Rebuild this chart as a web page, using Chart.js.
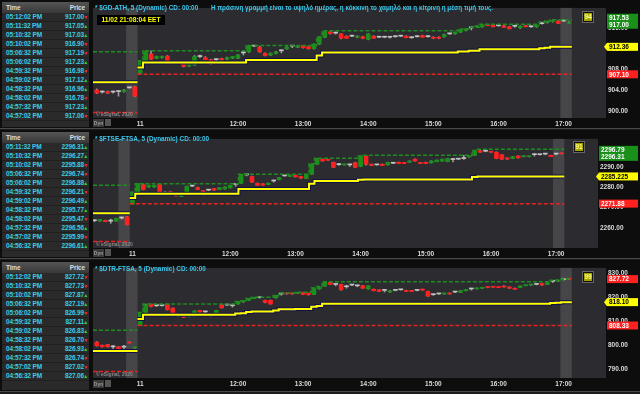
<!DOCTYPE html>
<html>
<head>
<meta charset="utf-8">
<title>eSignal - 5 min</title>
<script src="https://cdn.jsdelivr.net/npm/chart.js@4"></script>
<style>
  body { margin:0; width:640px; height:394px; background:#1b1b1b; overflow:hidden; position:relative;
         font-family:"Liberation Sans",Arial,sans-serif; font-weight:bold; font-size:6.5px; }
  .panel { position:absolute; left:0; width:640px; background:#0d0d0d; border-bottom:1px solid #4a4a4a; }
  .tbl { position:absolute; left:2px; width:87px; background:#2a2a2a; overflow:hidden; letter-spacing:-0.15px; }
  .thead { height:11px; line-height:11px; background:linear-gradient(#555,#383838); color:#ddd; padding:0 4px; }
  .thead span { float:right; }
  .row { height:8px; line-height:8px; border-bottom:1px solid #202020; color:#38cde6; padding-left:4px; position:relative; }
  .row .p { position:absolute; right:5px; }
  .row .a { position:absolute; right:1px; font-size:5px; }
  canvas { position:absolute; left:93px; }
  .txt { position:absolute; white-space:nowrap; }
  .title { color:#3cc8ec; font-size:6.4px; }
  .clock { background:#000; color:#ffff00; width:68px; height:10px; line-height:10px; text-align:center; font-size:6.6px; }
  .sig { width:8px; height:8px; line-height:8px; text-align:center; background:#a3a300; color:#ffff80; border:1px solid #111; outline:1px solid #666; }
  .esig { color:#8a8a8a; font-size:5px; }
  .dyn { background:#3a3a3a; color:#9a9a9a; font-size:5px; width:11px; height:8px; line-height:8px; text-align:center; }
  .dyni { background:#555; width:6px; height:7px; }
</style>
</head>
<body>

<div class="panel" style="top:0;height:128px"></div>
<div class="panel" style="top:130px;height:128px"></div>
<div class="panel" style="top:260px;height:131px"></div>

<div class="tbl" id="tbl1" style="top:2px;height:125px"></div>
<div class="tbl" id="tbl2" style="top:132px;height:125px"></div>
<div class="tbl" id="tbl3" style="top:262px;height:128px"></div>

<canvas id="chart1" width="547" height="126" style="top:2px"></canvas>
<canvas id="chart2" width="547" height="125" style="top:133px"></canvas>
<canvas id="chart3" width="547" height="128" style="top:262px"></canvas>

<div class="txt title" style="left:95px;top:4px">* $GD-ATH, 5 (Dynamic) CD: 00:00</div>
<div class="txt title" style="left:211px;top:4px;font-size:6.3px">Η πράσινη γραμμή είναι το υψηλό ημέρας, η κόκκινη το χαμηλό και η κίτρινη η μέση τιμή τους.</div>
<div class="txt clock" style="left:97px;top:15px">11/02 21:08:04 EET</div>
<div class="txt title" style="left:95px;top:135px">* $FTSE-FTSA, 5 (Dynamic) CD: 00:00</div>
<div class="txt title" style="left:95px;top:265px">* $DTR-FTSA, 5 (Dynamic) CD: 00:00</div>

<div class="txt sig" style="left:583px;top:12px">94</div>
<div class="txt sig" style="left:574px;top:142px">91</div>
<div class="txt sig" style="left:583px;top:272px">99</div>

<div class="txt esig" style="left:96px;top:111px">© eSignal, 2020</div>
<div class="txt esig" style="left:96px;top:241px">© eSignal, 2020</div>
<div class="txt esig" style="left:96px;top:371px">© eSignal, 2020</div>
<div class="txt dyn" style="left:93px;top:119px">Dyn</div><div class="txt dyni" style="left:105px;top:119px"></div>
<div class="txt dyn" style="left:93px;top:249px">Dyn</div><div class="txt dyni" style="left:105px;top:249px"></div>
<div class="txt dyn" style="left:93px;top:380px">Dyn</div><div class="txt dyni" style="left:105px;top:380px"></div>

<script>
// time & sales tables
const times1 = ['05:12:02 PM','05:11:32 PM','05:10:32 PM','05:10:02 PM','05:06:32 PM','05:06:02 PM','04:59:32 PM','04:59:02 PM','04:58:32 PM','04:58:02 PM','04:57:32 PM','04:57:02 PM'];
const prices1 = ['917.00','917.05','917.03','916.90','917.19','917.23','916.98','917.12','916.96','916.78','917.23','917.06'];
const up1 = [0,1,1,0,0,1,0,1,1,0,1,0];
const times2 = ['05:11:32 PM','05:10:32 PM','05:10:02 PM','05:06:32 PM','05:06:02 PM','04:59:32 PM','04:59:02 PM','04:58:32 PM','04:58:02 PM','04:57:32 PM','04:57:02 PM','04:56:32 PM'];
const prices2 = ['2296.31','2296.27','2295.88','2296.74','2296.88','2296.21','2296.49','2295.77','2295.47','2296.56','2295.99','2296.61'];
const up2 = [1,1,0,0,1,0,1,1,0,1,0,1];
const times3 = ['05:12:02 PM','05:10:32 PM','05:10:02 PM','05:06:32 PM','05:06:02 PM','04:59:32 PM','04:59:02 PM','04:58:32 PM','04:58:02 PM','04:57:32 PM','04:57:02 PM','04:56:32 PM'];
const prices3 = ['827.72','827.73','827.87','827.19','826.99','827.11','826.83','826.70','826.93','826.74','827.02','827.06'];
const up3 = [0,0,1,1,0,1,1,0,1,0,0,1];

// x axis: bar index, 0 = 10:30 of day 11, 5 minute bars
const xTickIdx = [0, 18, 30, 42, 54, 66, 78];
const xTickText = ['11', '12:00', '13:00', '14:00', '15:00', '16:00', '17:00'];
const bandStart = [-2.6, 77.4];
const bandEnd = [-0.5, 79.5];

// ---- $GD-ATH ----
const first1 = -8;
const open1 = [904.1,903.7,903.8,903.7,903.8,903.8,904.5,904.7,
  907.3,909.6,911.0,910.2,910.3,910.6,909.3,909.4,909.3,908.7,
  908.9,910.5,910.3,909.9,909.9,910.1,910.0,910.2,910.2,911.2,
  911.4,912.5,912.3,911.1,910.8,911.1,911.6,912.0,912.5,912.3,
  912.6,912.4,912.0,912.9,914.2,915.2,915.0,914.85,914.4,914.4,
  914.2,914.3,913.8,914.4,914.2,914.2,914.2,914.3,914.4,914.4,
  914.1,914.3,914.5,914.3,914.2,914.2,914.3,914.85,914.85,915.2,
  915.5,916.0,916.2,916.2,916.6,916.5,916.4,916.4,916.2,916.3,
  916.0,916.4,916.2,916.2,916.8,917.0,917.2,917.3,917.3,916.85];
const high1 = [904.3,903.9,903.9,903.9,903.9,904.2,904.7,904.8,
  909.7,911.6,911.6,910.6,910.6,910.7,909.4,909.5,909.4,909.1,
  910.7,910.8,910.5,910.0,910.1,910.2,910.4,910.5,910.9,911.5,
  912.6,912.6,912.5,911.2,911.2,911.5,911.8,912.4,912.6,912.6,
  912.6,912.5,912.95,914.3,915.45,915.3,915.2,914.9,914.5,914.6,
  914.5,914.4,914.9,914.5,914.4,914.4,914.3,914.5,914.6,914.5,
  914.3,914.5,914.6,914.5,914.3,914.3,914.8,915.0,915.2,915.7,
  915.8,916.1,916.4,916.7,916.7,916.6,916.5,916.5,916.3,916.5,
  916.4,916.5,916.4,916.6,917.1,917.3,917.53,917.4,917.5,917.2];
const low1 = [903.4,903.5,903.4,903.5,902.9,903.7,904.4,902.8,
  907.1,909.5,909.9,910.1,910.2,909.2,909.1,909.2,908.5,908.6,
  908.8,910.3,909.9,909.0,909.7,909.8,909.9,910.1,910.1,910.8,
  911.3,912.4,911.3,910.6,910.7,911.0,911.2,911.9,912.2,912.2,
  912.1,911.9,911.9,912.8,914.1,914.8,914.8,913.9,914.0,914.3,
  914.1,913.9,913.7,914.0,914.1,914.1,914.0,914.2,914.3,914.1,
  914.0,914.2,914.2,914.2,913.9,913.9,914.2,914.7,914.8,915.1,
  915.4,915.6,916.1,916.1,916.4,916.2,916.3,916.1,915.8,916.1,
  915.9,916.2,916.1,916.1,916.7,916.9,917.1,916.8,917.2,916.8];
const close1 = [903.5,903.7,903.5,903.7,903.8,904.1,904.5,902.9,
  909.5,911.5,910.0,910.5,910.5,909.3,909.3,909.3,908.6,909.0,
  910.5,910.5,909.9,909.1,909.9,909.9,910.3,910.5,910.8,911.2,
  912.6,912.5,911.4,910.7,911.1,911.4,911.6,912.3,912.5,912.6,
  912.2,912.0,912.9,914.2,915.3,914.9,915.0,914.0,914.0,914.4,
  914.4,914.0,914.85,914.0,914.2,914.2,914.2,914.3,914.4,914.1,
  914.1,914.3,914.2,914.3,914.0,914.0,914.7,914.85,915.15,915.6,
  915.8,916.0,916.3,916.6,916.4,916.2,916.4,916.1,915.8,916.3,
  916.3,916.2,916.2,916.5,916.8,917.2,917.4,916.85,917.3,917.0];
const prevHi1 = 911.4, prevMid1 = 905.6, prevLo1 = 899.8;
const stepX1 = [-0.5, 0.5, 19.5, 32.5, 33.5, 58.5, 60.5, 62.5, 73.5, 74.5, 75.5];
const hiV1 = [909.7, 911.6, 912.6, 914.3, 915.45, 915.8, 916.1, 916.7, 917.1, 917.3, 917.53];
const midV1 = [908.4, 909.35, 909.85, 910.7, 911.28, 911.45, 911.6, 911.9, 912.1, 912.2, 912.36];
const dayLo1 = 907.10;
const yTicks1 = [900, 904, 908, 912, 916];
const markVal1 = [917.53, 917.00, 912.36, 907.10];
const markTxt1 = ['917.53', '917.00', '912.36', '907.10'];
const markKind1 = ['up', 'up', 'mid', 'down'];

// ---- $FTSE-FTSA ----
const first2 = -7;
const open2 = [2263.5,2263.3,2263.6,2263.3,2263.3,2264.8,2265.35,
  2271.55,2277.0,2281.2,2280.07,2280.07,2281.3,2277.0,2277.75,2277.0,2275.4,
  2276.5,2280.5,2279.76,2278.2,2278.5,2279.3,2278.8,2279.1,2279.6,2281.3,
  2281.9,2286.0,2285.2,2281.9,2281.6,2281.3,2283.0,2283.6,2285.5,2285.2,
  2285.8,2285.2,2284.26,2286.3,2291.24,2293.7,2293.3,2292.17,2291.0,2290.9,
  2290.9,2292.0,2290.15,2295.27,2291.24,2290.9,2291.24,2290.93,2291.7,2292.17,
  2292.0,2292.17,2293.7,2292.0,2292.17,2291.86,2292.48,2292.8,2292.48,2293.5,
  2293.7,2294.0,2294.8,2295.6,2297.9,2297.6,2297.44,2297.13,2295.9,2294.34,
  2294.03,2295.27,2294.96,2294.96,2295.9,2295.9,2296.2,2295.58,2296.2,2296.6];
const high2 = [2263.8,2264.2,2263.8,2264.3,2264.7,2265.4,2265.5,
  2277.5,2281.6,2281.5,2281.0,2281.0,2281.5,2277.75,2278.0,2277.2,2276.6,
  2280.5,2280.8,2280.0,2278.3,2278.8,2279.4,2279.8,2280.1,2280.9,2281.6,
  2286.3,2286.3,2285.4,2282.0,2281.7,2282.0,2283.5,2284.8,2285.7,2285.9,
  2286.0,2285.3,2286.3,2291.4,2294.1,2293.8,2293.4,2292.3,2291.7,2291.3,
  2291.3,2292.1,2295.3,2295.6,2291.3,2291.1,2291.3,2292.2,2291.9,2292.3,
  2292.1,2292.9,2293.9,2292.1,2292.3,2292.9,2293.3,2293.8,2294.1,2294.1,
  2293.9,2295.6,2295.3,2297.95,2298.57,2298.4,2297.6,2297.3,2296.0,2294.4,
  2295.1,2295.4,2295.4,2295.2,2296.4,2296.0,2296.4,2295.7,2296.4,2296.8];
const low2 = [2263.0,2263.2,2263.0,2262.2,2263.2,2264.3,2261.4,
  2271.88,2276.9,2278.6,2279.9,2279.9,2276.8,2276.2,2277.0,2275.6,2275.3,
  2276.3,2280.2,2278.7,2276.0,2278.2,2278.4,2278.7,2279.0,2279.5,2280.4,
  2281.8,2285.5,2282.3,2280.8,2280.9,2281.2,2282.4,2283.5,2285.3,2285.1,
  2284.9,2284.3,2284.1,2286.2,2291.1,2292.7,2293.1,2289.6,2290.6,2290.8,
  2290.1,2289.6,2290.0,2290.8,2290.5,2290.7,2290.5,2290.8,2291.5,2291.5,
  2291.5,2292.1,2292.7,2291.5,2291.5,2291.8,2292.4,2292.7,2292.4,2292.4,
  2293.5,2293.6,2294.7,2295.5,2297.0,2297.3,2297.0,2293.9,2293.6,2293.6,
  2293.9,2294.2,2294.8,2294.8,2295.2,2295.7,2295.8,2294.9,2295.8,2296.2];
const close2 = [2263.5,2264.1,2263.0,2263.3,2264.6,2264.8,2261.5,
  2277.3,2281.6,2278.8,2280.85,2280.85,2277.0,2277.0,2277.0,2275.7,2276.5,
  2280.4,2280.5,2278.8,2276.2,2278.5,2278.5,2279.76,2280.07,2280.85,2281.3,
  2286.3,2286.0,2282.4,2280.85,2281.0,2281.9,2283.0,2284.7,2285.5,2285.8,
  2285.0,2284.4,2286.3,2291.24,2294.03,2292.8,2293.2,2289.7,2291.0,2291.24,
  2290.9,2289.7,2295.2,2291.24,2290.62,2290.9,2290.62,2292.17,2291.7,2291.55,
  2291.55,2292.8,2292.8,2291.55,2291.55,2292.8,2293.25,2293.7,2294.03,2293.5,
  2293.7,2294.0,2295.27,2297.9,2297.13,2297.6,2297.13,2294.03,2293.7,2293.7,
  2294.96,2294.34,2295.27,2295.1,2295.9,2295.9,2296.2,2294.96,2296.2,2296.31];
const prevHi2 = 2280.85, prevMid2 = 2267.1, prevLo2 = 2253.3;
const stepX2 = [-0.5, 0.5, 19.5, 32.5, 33.5, 41.5, 42.5, 62.5, 63.5];
const hiV2 = [2277.5, 2281.6, 2286.3, 2291.4, 2294.1, 2295.3, 2295.6, 2297.95, 2298.57];
const midV2 = [2274.7, 2276.75, 2279.1, 2281.65, 2283.0, 2283.6, 2283.75, 2284.9, 2285.225];
const dayLo2 = 2271.88;
const yTicks2 = [2260, 2270, 2280, 2290];
const markVal2 = [2296.79, 2296.31, 2285.225, 2271.88];
const markTxt2 = ['2296.79', '2296.31', '2285.225', '2271.88'];
const markKind2 = ['up', 'up', 'mid', 'down'];

// ---- $DTR-FTSA ----
const first3 = -8;
const open3 = [801.4,800.1,800.37,799.4,799.44,799.3,801.4,799.0,
  808.4,813.33,817.3,816.6,816.64,817.3,815.6,812.7,813.33,812.0,
  812.27,814.65,814.0,812.7,812.67,817.03,816.9,816.6,817.3,818.36,
  818.88,819.55,819.94,818.88,818.88,819.94,821.5,821.79,821.79,821.79,
  822.06,821.79,821.27,823.65,824.84,826.3,825.5,825.5,824.5,825.24,
  824.9,824.97,823.65,823.5,823.25,823.0,822.32,823.0,823.25,822.98,
  822.85,823.0,823.5,822.59,821.2,821.53,821.53,821.79,822.3,822.19,
  822.85,823.6,823.65,823.91,824.44,824.57,824.44,824.84,824.44,823.91,
  824.18,824.97,825.24,825.5,825.9,825.5,826.8,826.82,827.5,827.87];
const high3 = [801.6,800.2,800.5,800.1,799.6,800.1,801.5,799.3,
  813.8,817.3,817.3,817.0,816.9,817.3,815.7,813.4,813.4,812.7,
  814.5,814.7,814.4,813.3,814.7,817.1,817.3,817.3,818.4,818.7,
  819.7,820.0,820.1,819.0,819.0,820.9,821.79,821.9,821.9,822.2,
  822.2,821.9,824.0,824.6,826.6,826.4,825.9,825.6,825.2,825.4,
  825.24,825.1,825.0,823.6,823.3,823.3,823.0,823.2,823.4,823.1,
  822.9,823.1,823.6,822.7,821.5,821.7,821.9,821.9,822.6,822.9,
  823.4,823.9,824.0,824.2,824.5,824.7,824.5,824.9,824.5,824.0,
  824.9,825.3,825.6,825.7,826.0,826.6,827.22,827.3,827.7,827.87];
const low3 = [799.7,799.3,799.3,798.5,798.4,798.1,801.0,798.8,
  808.33,813.2,816.1,816.2,816.4,814.8,813.5,812.0,811.6,811.9,
  812.1,813.9,813.3,812.0,812.5,815.6,816.6,816.0,817.2,818.0,
  818.8,819.5,819.8,817.8,817.2,819.8,821.0,821.4,821.4,821.7,
  821.2,821.0,821.2,823.5,824.7,825.4,824.9,823.1,823.9,825.0,
  824.5,823.8,823.5,822.8,822.5,822.3,822.2,822.8,823.1,822.5,
  822.5,822.8,823.0,820.5,820.9,821.3,821.4,821.4,822.0,822.1,
  822.8,823.1,823.6,823.8,824.1,824.3,824.1,824.4,823.8,823.4,
  824.1,824.9,825.1,825.3,825.1,825.4,826.29,826.7,827.3,827.5];
const close3 = [799.84,799.44,799.44,799.4,798.5,799.3,801.03,799.04,
  813.6,816.9,816.24,816.6,816.64,814.92,813.59,812.7,811.74,812.67,
  814.39,813.99,814.0,812.7,814.65,815.71,816.9,816.6,818.36,818.62,
  819.68,819.94,819.94,817.96,817.3,820.87,821.5,821.53,821.53,822.06,
  821.27,821.27,823.91,824.44,826.56,825.5,825.5,823.25,824.5,825.24,
  824.9,823.91,824.9,822.85,822.59,823.0,822.85,823.0,823.25,822.59,
  822.59,823.0,823.12,820.6,821.2,821.53,821.79,821.53,822.3,822.85,
  823.38,823.6,823.91,824.18,824.18,824.31,824.18,824.44,823.91,823.5,
  824.84,825.24,825.5,825.5,825.24,826.56,826.8,827.22,827.5,827.72];
const prevHi3 = 806.3, prevMid3 = 797.7, prevLo3 = 789.1;
const stepX3 = [-0.5, 0.5, 17.5, 18.5, 19.5, 20.5, 24.5, 25.5, 28.5, 31.5, 32.5, 33.5, 75.5, 76.5, 77.5, 78.5];
const hiV3 = [813.8, 817.3, 818.4, 818.7, 819.7, 820.1, 820.9, 821.9, 822.2, 824.0, 824.6, 826.6, 827.22, 827.3, 827.7, 827.87];
const midV3 = [811.07, 812.8, 813.37, 813.5, 814.0, 814.2, 814.6, 815.1, 815.27, 816.17, 816.47, 817.47, 817.78, 817.8, 818.0, 818.10];
const dayLo3 = 808.33;
const yTicks3 = [790, 800, 810, 820, 830];
const markVal3 = [827.72, 818.10, 808.33];
const markTxt3 = ['827.72', '818.10', '808.33'];
const markKind3 = ['down', 'mid', 'down'];

const FONT = '"Liberation Sans",Arial,sans-serif';
Chart.defaults.font.family = FONT;
Chart.defaults.font.size = 6.5;
Chart.defaults.font.weight = 'bold';

const GREEN = '#1a8f1a', RED = '#ff2020', DOJI = '#c4c4c4';

function fillTable(id, times, prices, up) {
  let html = '<div class="thead">Time<span>Price</span></div>';
  times.forEach((t, i) => {
    const arrow = up[i] ? '<span class="a" style="color:#2fd02f">▲</span>' : '<span class="a" style="color:#ff2a2a">▼</span>';
    html += '<div class="row">' + t + '<span class="p">' + prices[i] + '</span>' + arrow + '</div>';
  });
  document.getElementById(id).innerHTML = html;
}
fillTable('tbl1', times1, prices1, up1);
fillTable('tbl2', times2, prices2, up2);
fillTable('tbl3', times3, prices3, up3);

// background, shaded bands
const backPlugin = {
  id: 'back',
  beforeDraw(chart) {
    const {ctx, chartArea: a, scales} = chart;
    ctx.save();
    ctx.fillStyle = '#0d0d0d';
    ctx.fillRect(0, 0, chart.width, chart.height);
    ctx.fillStyle = '#2b2b30';
    ctx.fillRect(a.left, a.top, a.width, a.height);
    ctx.fillStyle = 'rgba(140,140,140,0.28)';
    bandStart.forEach((s, i) => {
      const x0 = scales.x.getPixelForValue(s), x1 = scales.x.getPixelForValue(bandEnd[i]);
      ctx.fillRect(x0, a.top, x1 - x0, a.height);
    });
    ctx.restore();
  }
};

// price boxes on the right axis
const markPlugin = {
  id: 'marks',
  afterDraw(chart, args, opts) {
    const {ctx, chartArea: a, scales} = chart;
    const list = opts.values.map((v, i) => ({y: scales.y.getPixelForValue(v), t: opts.texts[i], k: opts.kinds[i]}));
    list.sort((p, q) => p.y - q.y);
    for (let i = 1; i < list.length; i++) {
      const gap = list[i].y - list[i - 1].y;
      if (gap < 7) { const d = (7 - gap) / 2; list[i - 1].y -= d; list[i].y += d; }
    }
    ctx.save();
    ctx.font = 'bold 6.5px ' + FONT;
    ctx.textBaseline = 'middle';
    list.forEach(m => {
      const x0 = a.right + 1, x1 = chart.width - 2, h = 8;
      const bg = m.k === 'up' ? GREEN : m.k === 'mid' ? '#ffff00' : RED;
      ctx.fillStyle = bg;
      ctx.fillRect(x0, m.y - h / 2, x1 - x0, h);
      if (m.k === 'mid') {
        ctx.beginPath();
        ctx.moveTo(x0 - 3, m.y); ctx.lineTo(x0, m.y - h / 2); ctx.lineTo(x0, m.y + h / 2);
        ctx.closePath(); ctx.fill();
      }
      ctx.fillStyle = m.k === 'mid' ? '#000' : '#fff';
      ctx.fillText(m.t, x0 + 2, m.y + 0.5);
    });
    ctx.restore();
  }
};

function stepLine(xs, vs, end) {
  const pts = xs.map((x, i) => ({x: x, y: vs[i]}));
  pts.push({x: end, y: vs[vs.length - 1]});
  return pts;
}

function buildPanel(id, p) {
  const wick = [], body = [], colors = [];
  for (let k = 0; k < p.open.length; k++) {
    const i = p.first + k;
    wick.push({x: i, y: [p.low[k], p.high[k]]});
    body.push({x: i, y: [p.open[k], p.close[k]]});
    colors.push(p.close[k] > p.open[k] ? GREEN : p.close[k] < p.open[k] ? RED : DOJI);
  }
  const dayEnd = 79.5;
  const lineBase = {type: 'line', pointRadius: 0, fill: false, order: 0};
  const datasets = [
    {type: 'bar', data: wick, backgroundColor: '#9a9a9a', barThickness: 1, grouped: false, order: 5},
    {type: 'bar', data: body, backgroundColor: colors, barThickness: 4, minBarLength: 1, grouped: false, order: 4},
    {...lineBase, data: [{x: p.xMin, y: p.prevHi}, {x: -0.5, y: p.prevHi}], borderColor: '#1f8c1f', borderWidth: 1.5, borderDash: [4, 2]},
    {...lineBase, data: [{x: p.xMin, y: p.prevLo}, {x: -0.5, y: p.prevLo}], borderColor: '#e82020', borderWidth: 1.5, borderDash: [4, 2]},
    {...lineBase, data: [{x: p.xMin, y: p.prevMid}, {x: -0.5, y: p.prevMid}], borderColor: '#12124a', borderWidth: 4, order: 1},
    {...lineBase, data: [{x: p.xMin, y: p.prevMid}, {x: -0.5, y: p.prevMid}], borderColor: '#ffff00', borderWidth: 2},
    {...lineBase, data: stepLine(p.stepX, p.hiV, dayEnd), stepped: true, borderColor: '#1f8c1f', borderWidth: 1.5, borderDash: [4, 2]},
    {...lineBase, data: [{x: -0.5, y: p.dayLo}, {x: dayEnd, y: p.dayLo}], borderColor: '#e82020', borderWidth: 1.5, borderDash: [4, 2]},
    {...lineBase, data: stepLine(p.stepX, p.midV, dayEnd), stepped: true, borderColor: '#12124a', borderWidth: 4, order: 1},
    {...lineBase, data: stepLine(p.stepX, p.midV, dayEnd), stepped: true, borderColor: '#ffff00', borderWidth: 2}
  ];
  new Chart(document.getElementById(id), {
    type: 'bar',
    data: {datasets: datasets},
    options: {
      responsive: false,
      animation: false,
      events: [],
      layout: {padding: 0},
      plugins: {legend: {display: false}, tooltip: {enabled: false}, marks: {values: p.markVal, texts: p.markTxt, kinds: p.markKind}},
      scales: {
        x: {
          type: 'linear', min: p.xMin, max: p.xMax, offset: false,
          grid: {display: false, drawTicks: false}, border: {display: false},
          afterBuildTicks: s => { s.ticks = xTickIdx.map(v => ({value: v})); },
          afterFit: s => { s.height = p.xAxisH; },
          ticks: {color: '#dadada', padding: 2, autoSkip: false, maxRotation: 0, callback: (v, i) => xTickText[i]}
        },
        y: {
          position: 'right', min: p.yMin, max: p.yMax,
          grid: {display: false, drawTicks: false}, border: {display: false},
          afterBuildTicks: s => { s.ticks = p.yTicks.map(v => ({value: v})); },
          afterFit: s => { s.width = p.yAxisW; },
          ticks: {color: '#dadada', padding: 2, callback: v => v.toFixed(2)}
        }
      }
    },
    plugins: [backPlugin, markPlugin]
  });
}

buildPanel('chart1', {first: first1, open: open1, high: high1, low: low1, close: close1,
  prevHi: prevHi1, prevMid: prevMid1, prevLo: prevLo1, stepX: stepX1, hiV: hiV1, midV: midV1, dayLo: dayLo1,
  yTicks: yTicks1, markVal: markVal1, markTxt: markTxt1, markKind: markKind1,
  xMin: -8.7, xMax: 85.8, yMin: 898.73, yMax: 919.82, yAxisW: 34, xAxisH: 10});
buildPanel('chart2', {first: first2, open: open2, high: high2, low: low2, close: close2,
  prevHi: prevHi2, prevMid: prevMid2, prevLo: prevLo2, stepX: stepX2, hiV: hiV2, midV: midV2, dayLo: dayLo2,
  yTicks: yTicks2, markVal: markVal2, markTxt: markTxt2, markKind: markKind2,
  xMin: -7.27, xMax: 85.7, yMin: 2250.1, yMax: 2303.65, yAxisW: 42, xAxisH: 10});
buildPanel('chart3', {first: first3, open: open3, high: high3, low: low3, close: close3,
  prevHi: prevHi3, prevMid: prevMid3, prevLo: prevLo3, stepX: stepX3, hiV: hiV3, midV: midV3, dayLo: dayLo3,
  yTicks: yTicks3, markVal: markVal3, markTxt: markTxt3, markKind: markKind3,
  xMin: -8.7, xMax: 85.8, yMin: 786.4, yMax: 832.4, yAxisW: 34, xAxisH: 12});
</script>
</body>
</html>
